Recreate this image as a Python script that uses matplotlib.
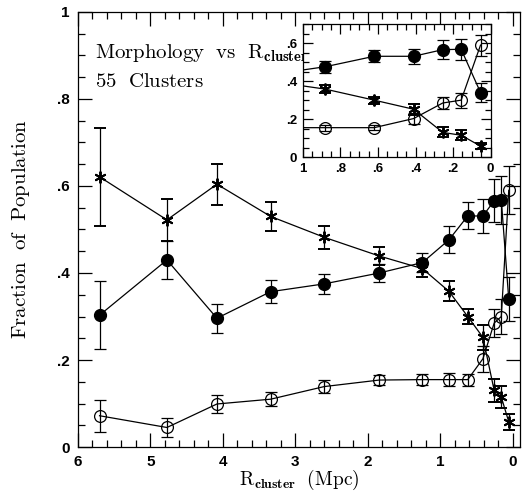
import numpy as np
import matplotlib
matplotlib.use("Agg")
import matplotlib.pyplot as plt
from matplotlib.ticker import MultipleLocator, FuncFormatter

plt.rcParams['mathtext.fontset'] = 'cm'

# cluster-centric radius (Mpc) for each bin
r_mpc = [5.70, 4.77, 4.08, 3.34, 2.60, 1.84, 1.245, 0.88, 0.62, 0.41, 0.255, 0.157, 0.054]

# S0 fraction (filled circles)
s0_frac = [0.303, 0.430, 0.296, 0.357, 0.375, 0.400, 0.424, 0.476, 0.531, 0.531, 0.566, 0.568, 0.340]
s0_err = [0.078, 0.043, 0.033, 0.027, 0.023, 0.020, 0.022, 0.031, 0.031, 0.039, 0.050, 0.055, 0.050]

# spiral fraction (asterisks)
sp_frac = [0.621, 0.522, 0.604, 0.530, 0.482, 0.439, 0.410, 0.358, 0.300, 0.252, 0.130, 0.115, 0.058]
sp_err = [0.112, 0.049, 0.047, 0.034, 0.027, 0.020, 0.020, 0.023, 0.018, 0.029, 0.026, 0.026, 0.018]

# elliptical fraction (open circles)
el_frac = [0.072, 0.045, 0.099, 0.110, 0.139, 0.154, 0.155, 0.155, 0.155, 0.203, 0.285, 0.300, 0.590]
el_err = [0.037, 0.022, 0.021, 0.016, 0.014, 0.012, 0.013, 0.015, 0.014, 0.030, 0.032, 0.040, 0.055]

star = (6, 2, 0)


def frac_label(v, pos):
    if abs(v) < 1e-9:
        return "0"
    if abs(v - 1) < 1e-9:
        return "1"
    return ("%.1f" % v).lstrip("0")


def draw_series(ax, ms):
    common = dict(color="black", lw=0.9, elinewidth=0.9, capsize=4, capthick=0.9, ls="-")
    ax.errorbar(r_mpc, s0_frac, yerr=s0_err, marker="o", ms=ms, mfc="black", mec="black", **common)
    ax.errorbar(r_mpc, sp_frac, yerr=sp_err, marker=star, ms=ms, mfc="black", mec="black", mew=1.4, **common)
    ax.errorbar(r_mpc, el_frac, yerr=el_err, marker="o", ms=ms, mfc="none", mec="black", mew=0.9, **common)


fig = plt.figure(figsize=(5.22, 4.94), dpi=100)

# main panel
ax = fig.add_axes([0.149, 0.095, 0.847, 0.881])
draw_series(ax, 8.5)
ax.set_xlim(6, -0.1)
ax.set_ylim(0, 1)
ax.xaxis.set_major_locator(MultipleLocator(1))
ax.xaxis.set_minor_locator(MultipleLocator(0.2))
ax.yaxis.set_major_locator(MultipleLocator(0.2))
ax.yaxis.set_minor_locator(MultipleLocator(0.05))
ax.yaxis.set_major_formatter(FuncFormatter(frac_label))
ax.xaxis.set_major_formatter(FuncFormatter(lambda v, p: "%d" % round(v)))
ax.tick_params(which="both", direction="in", top=True, right=True, width=0.9)
ax.tick_params(which="major", length=10, labelsize=11, pad=6)
ax.tick_params(which="minor", length=5)
for lab in ax.get_xticklabels() + ax.get_yticklabels():
    lab.set_fontweight("bold")
    lab.set_family("Liberation Sans")
for sp in ax.spines.values():
    sp.set_linewidth(0.9)

ax.set_xlabel(r"$\mathrm{R}_{\mathbf{cluster}}\ \ \mathrm{(Mpc)}$", fontsize=14, labelpad=-1)
ax.set_ylabel(r"$\mathrm{Fraction\ \ of\ \ Population}$", fontsize=15, labelpad=18)
ax.text(0.04, 0.905, r"$\mathrm{Morphology\ \ vs\ \ R}_{\mathbf{cluster}}$", transform=ax.transAxes,
        fontsize=15, va="center", ha="left")
ax.text(0.04, 0.84, r"$\mathrm{55\ \ Clusters}$", transform=ax.transAxes,
        fontsize=15, va="center", ha="left")

# inset zoom on the cluster core
ins = fig.add_axes([0.580, 0.682, 0.360, 0.269])
draw_series(ins, 8.5)
ins.set_xlim(1, 0)
ins.set_ylim(0, 0.7)
ins.xaxis.set_major_locator(MultipleLocator(0.2))
ins.xaxis.set_minor_locator(MultipleLocator(0.05))
ins.yaxis.set_major_locator(MultipleLocator(0.2))
ins.yaxis.set_minor_locator(MultipleLocator(0.05))
ins.xaxis.set_major_formatter(FuncFormatter(frac_label))
ins.yaxis.set_major_formatter(FuncFormatter(frac_label))
ins.tick_params(which="both", direction="in", top=True, right=True, width=0.9)
ins.tick_params(which="major", length=7, labelsize=9.5, pad=4)
ins.tick_params(which="minor", length=4)
for lab in ins.get_xticklabels() + ins.get_yticklabels():
    lab.set_fontweight("bold")
    lab.set_family("Liberation Sans")
for sp in ins.spines.values():
    sp.set_linewidth(0.9)

fig.savefig("out.png", dpi=100)
